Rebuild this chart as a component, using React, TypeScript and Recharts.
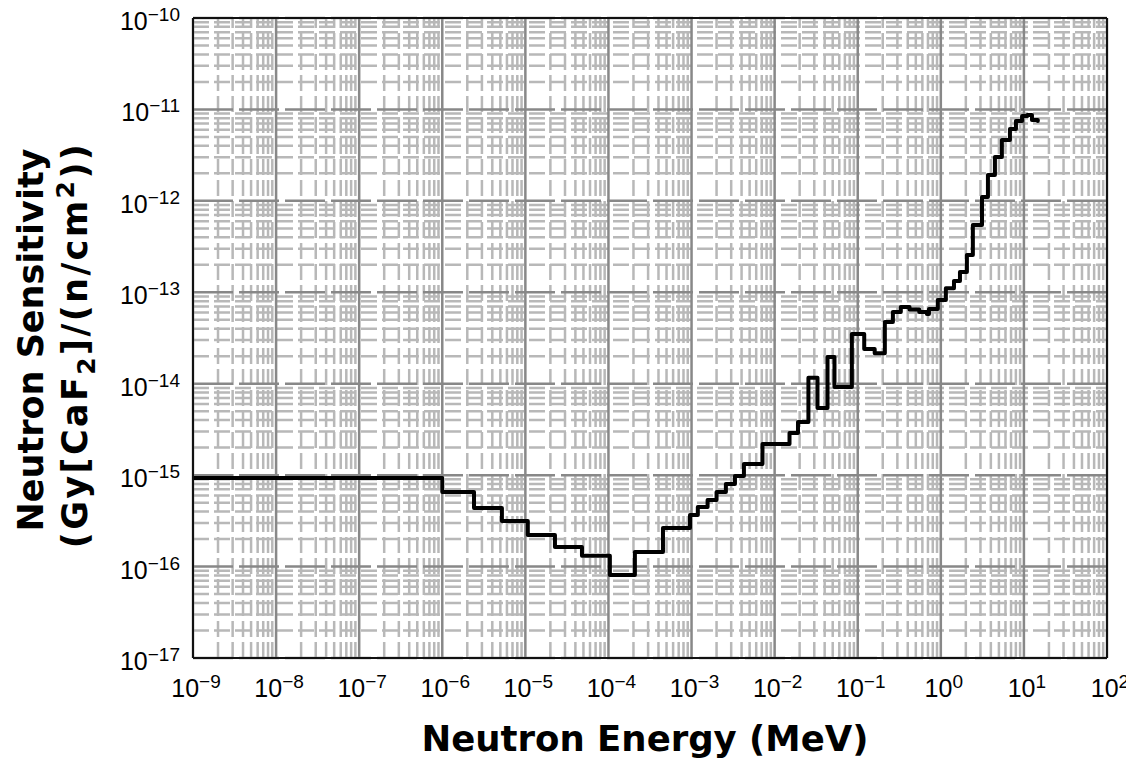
import React from 'react';
import { LineChart, Line, XAxis, YAxis, ReferenceLine } from 'recharts';

// Step levels: energy (MeV) where each level starts, sensitivity Gy[CaF2]/(n/cm2)
const energies = [
  1e-9, 1.0e-6, 2.41e-6, 5.22e-6, 1.07e-5, 2.27e-5, 4.8e-5, 1.04e-4, 2.08e-4, 4.53e-4,
  9.58e-4, 1.19e-3, 1.56e-3, 2.0e-3, 2.59e-3, 3.33e-3, 4.27e-3, 7.14e-3, 1.51e-2, 1.91e-2,
  2.55e-2, 3.28e-2, 4.33e-2, 5.25e-2, 8.5e-2, 0.1197, 0.16, 0.212, 0.265, 0.33,
  0.42, 0.55, 0.68, 0.72, 0.92, 1.15, 1.44, 1.7, 2.06, 2.43,
  3.13, 3.69, 4.48, 5.43, 6.79, 8.02, 9.5, 11, 12.5, 14.7,
];
const sensitivities = [
  9.3e-16, 6.55e-16, 4.38e-16, 3.15e-16, 2.21e-16, 1.64e-16, 1.31e-16, 8.1e-17, 1.44e-16, 2.64e-16,
  3.66e-16, 4.49e-16, 5.35e-16, 6.55e-16, 8.0e-16, 9.8e-16, 1.32e-15, 2.19e-15, 2.89e-15, 3.81e-15,
  1.16e-14, 5.42e-15, 1.96e-14, 9.2e-15, 3.5e-14, 2.4e-14, 2.15e-14, 4.73e-14, 6.08e-14, 6.9e-14,
  6.5e-14, 6.1e-14, 5.8e-14, 6.56e-14, 8.24e-14, 1.11e-13, 1.33e-13, 1.67e-13, 2.56e-13, 5.44e-13,
  1.1e-12, 1.92e-12, 3.02e-12, 4.63e-12, 6.11e-12, 7.47e-12, 8.5e-12, 8.69e-12, 7.66e-12, 7.47e-12,
];

const xTicks = [1e-9, 1e-8, 1e-7, 1e-6, 1e-5, 1e-4, 1e-3, 1e-2, 1e-1, 1e0, 1e1, 1e2];
const yTicks = [1e-17, 1e-16, 1e-15, 1e-14, 1e-13, 1e-12, 1e-11, 1e-10];

const data = energies.map((e, i) => ({ e, s: sensitivities[i] }));

// minor grid positions 2..9 within each decade
const minors = (decades: number[]) =>
  decades.slice(0, -1).flatMap((d) => [2, 3, 4, 5, 6, 7, 8, 9].map((k) => k * d));
const xMinor = minors(xTicks);
const yMinor = minors(yTicks);

const TICK_FONT = '"Liberation Sans", Arial, sans-serif';
const TITLE_FONT = '"DejaVu Sans", Verdana, sans-serif';

const expText = (v: number) => {
  const n = Math.round(Math.log10(v));
  return n < 0 ? '\u2212' + -n : String(n);
};

const XTick = ({ x, y, payload }: any) => (
  <text x={x + 3} y={y + 39} textAnchor="middle" fontFamily={TICK_FONT} fontSize={25} fill="#000">
    <tspan>10</tspan>
    <tspan dy={-9} fontSize={19}>{expText(payload.value)}</tspan>
  </text>
);

const YTick = ({ x, y, payload }: any) => (
  <text x={x - 13} y={y + 12} textAnchor="end" fontFamily={TICK_FONT} fontSize={25} fill="#000">
    <tspan>10</tspan>
    <tspan dy={-9} fontSize={19}>{expText(payload.value)}</tspan>
  </text>
);

const XTitle = () => (
  <text x={645} y={751} textAnchor="middle" fontFamily={TITLE_FONT} fontWeight="bold" fontSize={35.5} fill="#000">
    Neutron Energy (MeV)
  </text>
);

const YTitle = () => (
  <g fontFamily={TITLE_FONT} fontWeight="bold" fontSize={35} fill="#000">
    <text x={43} y={340} transform="rotate(-90 43 340)" textAnchor="middle">
      Neutron Sensitivity
    </text>
    <text x={87} y={345} transform="rotate(-90 87 345)" textAnchor="middle" letterSpacing={2.4}>
      <tspan>(Gy[CaF</tspan>
      <tspan dy={8} fontSize={25}>2</tspan>
      <tspan dy={-8}>]/(n/cm</tspan>
      <tspan dy={-13} fontSize={25}>2</tspan>
      <tspan dy={13}>))</tspan>
    </text>
  </g>
);

export default function App() {
  return (
    <div style={{ margin: -8 }}>
      <LineChart
        width={1134}
        height={766}
        data={data}
        margin={{ top: 18, right: 27, bottom: 0, left: 0 }}
      >
        <XAxis
          dataKey="e"
          type="number"
          scale="log"
          domain={[1e-9, 1e2]}
          ticks={xTicks}
          allowDataOverflow
          axisLine={false}
          tickLine={false}
          tickSize={0}
          tickMargin={0}
          height={108}
          tick={<XTick />}
          interval={0}
          label={{ content: () => <XTitle /> }}
        />
        <YAxis
          type="number"
          scale="log"
          domain={[1e-17, 1e-10]}
          ticks={yTicks}
          allowDataOverflow
          axisLine={false}
          tickLine={false}
          tickSize={0}
          tickMargin={0}
          width={193}
          tick={<YTick />}
          interval={0}
          label={{ content: () => <YTitle /> }}
        />
        {xMinor.map((v) => (
          <ReferenceLine key={'xm' + v} x={v} stroke="#b8b8b8" strokeWidth={2.5} strokeDasharray="16 5" />
        ))}
        {yMinor.map((v) => (
          <ReferenceLine key={'ym' + v} y={v} stroke="#b8b8b8" strokeWidth={2.5} strokeDasharray="16 5" />
        ))}
        {yTicks.map((v) => (
          <ReferenceLine key={'yM' + v} y={v} stroke="#888" strokeWidth={2.5} strokeDasharray="40 6" />
        ))}
        {xTicks.map((v) => (
          <ReferenceLine key={'xM' + v} x={v} stroke="#888" strokeWidth={2.5} />
        ))}
        <Line
          dataKey="s"
          type="stepAfter"
          stroke="#000"
          strokeWidth={4}
          strokeLinejoin="round"
          strokeLinecap="round"
          dot={false}
          activeDot={false}
          isAnimationActive={false}
        />
        <ReferenceLine x={1e-9} stroke="#111" strokeWidth={2} />
        <ReferenceLine x={1e2} stroke="#111" strokeWidth={2} />
        <ReferenceLine y={1e-17} stroke="#111" strokeWidth={2} />
        <ReferenceLine y={1e-10} stroke="#111" strokeWidth={2} />
      </LineChart>
    </div>
  );
}
